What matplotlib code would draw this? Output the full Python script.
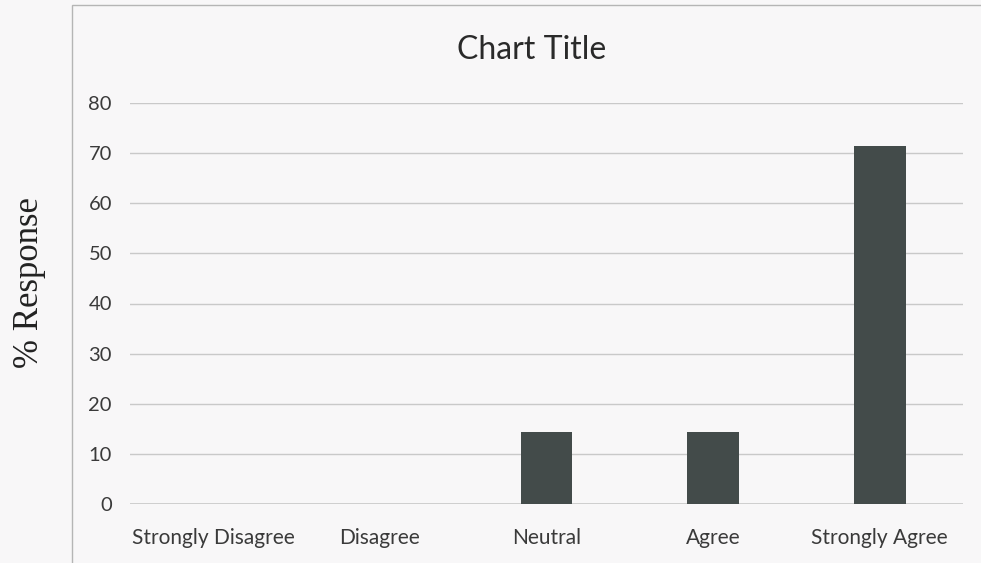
import numpy as np
import matplotlib.pyplot as plt
from matplotlib.patches import Rectangle

categories = ['Strongly Disagree', 'Disagree', 'Neutral', 'Agree', 'Strongly Agree']
values = [0, 0, 14.3, 14.3, 71.4]
yticks = [0, 10, 20, 30, 40, 50, 60, 70, 80]

bg = '#f8f7f8'
grid_col = '#c9c9c9'
text_col = '#3a3a3a'
bar_col = '#434b4a'

fig = plt.figure(figsize=(9.81, 5.63), dpi=100, facecolor=bg)

# outer chart border (only left/top visible in the scan)
fig.patches.append(Rectangle((72 / 981, -0.05), 1.0, 1 - 5 / 563 + 0.05,
                             transform=fig.transFigure, fill=False,
                             edgecolor='#b5b5b5', lw=1.0))

ax = fig.add_axes([130 / 981, 1 - 504 / 563, 833 / 981, (504 - 103) / 563])
ax.set_facecolor(bg)

x = np.arange(len(categories))
ax.bar(x, values, width=0.31, color=bar_col, zorder=3)

ax.set_xlim(-0.5, len(categories) - 0.5)
ax.set_ylim(0, 80)
ax.set_yticks(yticks)
ax.set_xticks(x)
ax.set_xticklabels(categories)
ax.grid(axis='y', color=grid_col, lw=1.0, zorder=0)
for s in ax.spines.values():
    s.set_visible(False)
ax.axhline(0, color=grid_col, lw=1.2, zorder=2)
ax.tick_params(length=0, labelcolor=text_col)
ax.tick_params(axis='x', pad=17, labelsize=15)
ax.tick_params(axis='y', pad=13, labelsize=14.5)
for lab in ax.get_xticklabels() + ax.get_yticklabels():
    lab.set_family('Lato')

fig.text(532 / 981, 1 - 50 / 563, 'Chart Title', ha='center', va='center',
         fontsize=23, color='#2a2a2a', family='Lato')
fig.text(30 / 981, 1 - 282 / 563, '% Response', rotation=90, ha='center',
         va='center', fontsize=25, color='#222222', family='Liberation Serif')

fig.savefig('out.png', dpi=100, facecolor=bg)
